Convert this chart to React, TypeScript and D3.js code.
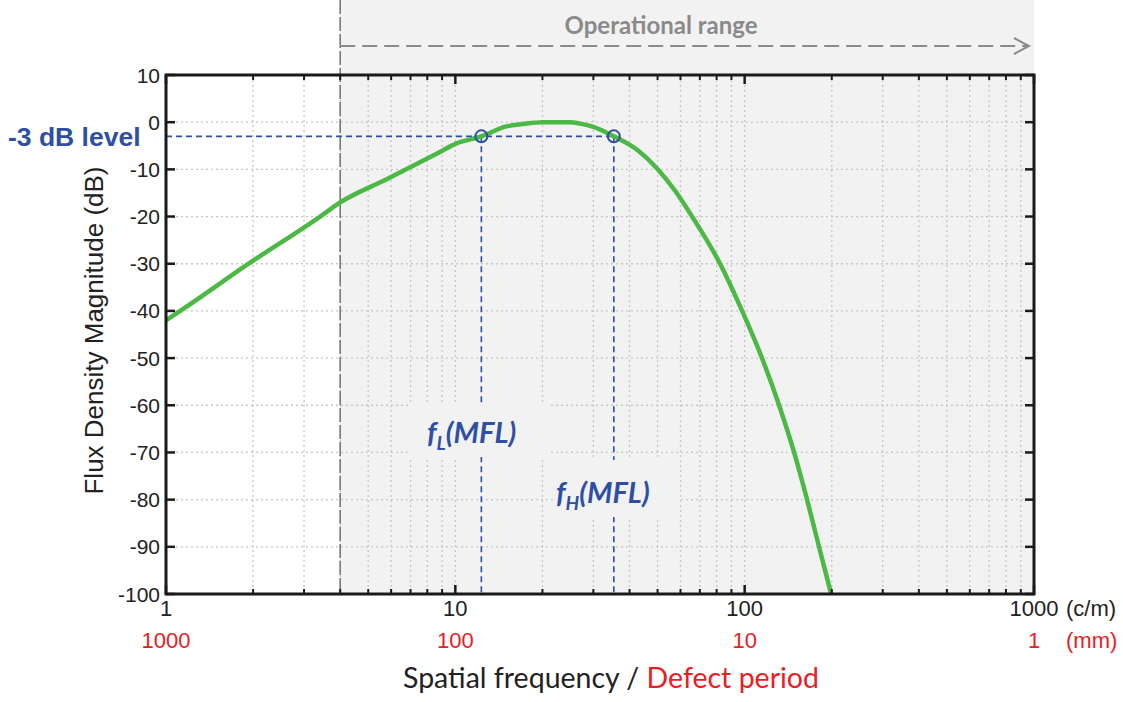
import React from 'react';
import * as d3 from 'd3';

// curve (spatial frequency in c/m, magnitude in dB)
const freq = [1, 1.14, 1.93, 3.41, 4, 5.79, 8.85, 10, 12.3, 15, 17, 20, 25, 27, 30, 35.3, 43, 49.8, 57.9, 65.8, 82.2, 98, 114.8, 131.5, 148.2, 164.3, 180.7, 199];
const magnitude = [-42, -39.7, -30, -20, -17, -12.1, -6.3, -4.6, -3, -0.9, -0.4, 0, 0, -0.3, -1, -3, -6.1, -9.8, -14.8, -20, -30, -40, -50, -60, -70, -80, -90, -100];

const yTicks = [10, 0, -10, -20, -30, -40, -50, -60, -70, -80, -90, -100];
const xTicks = [1, 10, 100, 1000];
const periodLabels = ['1000', '100', '10', '1'];
const operationalStart = 4;
const cutoffLevel = -3;
const fLow = 12.3;
const fHigh = 35.3;

const W = 1123;
const H = 702;
const left = 166, right = 1034, top = 75, bottom = 594;

const GREY = '#8a8a8a';
const BLUE = '#2f4fa2';
const RED = '#ec1c24';
const GREEN = '#4cb845';
const SHADE = '#f2f2f2';

export default function App() {
  const x = d3.scaleLog().domain([1, 1000]).range([left, right]);
  const y = d3.scaleLinear().domain([-100, 10]).range([bottom, top]);

  const minor: number[] = [];
  [1, 10, 100].forEach(d => { for (let k = 2; k <= 9; k++) minor.push(d * k); });

  const line = d3.line<number>()
    .x((_, i) => x(freq[i]))
    .y(d => y(d))
    .curve(d3.curveMonotoneX);

  const xs = x(operationalStart);
  const sans = '"Liberation Sans", Arial, sans-serif';
  const cal = 'Lato, "Open Sans", sans-serif';

  return (
    <div style={{ position: 'absolute', left: 0, top: 0 }}>
      <svg width={W} height={H} style={{ display: 'block', background: '#fff' }}>
        {/* operational range shading */}
        <rect x={xs} y={0} width={right - xs} height={bottom} fill={SHADE} />

        {/* grid */}
        <g stroke="#c6c6c6" strokeWidth={1.3} strokeDasharray="2,3">
          {[...minor, 10, 100].map(d => (
            <line key={'gx' + d} x1={x(d)} x2={x(d)} y1={top} y2={bottom} />
          ))}
          {yTicks.filter(d => d !== 10 && d !== -100).map(d => (
            <line key={'gy' + d} x1={left} x2={right} y1={y(d)} y2={y(d)} />
          ))}
        </g>

        {/* boundary of operational range */}
        <line x1={xs} x2={xs} y1={0} y2={bottom} stroke="#7a7a7a" strokeWidth={1.6} strokeDasharray="14,3" />

        {/* arrow */}
        <line x1={xs} x2={right - 6} y1={46} y2={46} stroke={GREY} strokeWidth={2.2} strokeDasharray="15,7" />
        <polyline points={`${right - 20},38 ${right - 5},46 ${right - 20},54`} fill="none" stroke={GREY} strokeWidth={2} />
        <text x={661} y={34} textAnchor="middle" fontFamily={cal} fontWeight={700} fontSize={24} fill={GREY}>Operational range</text>

        {/* -3 dB guides */}
        <g stroke={BLUE} strokeWidth={1.6} strokeDasharray="6,4" fill="none">
          <line x1={left} x2={x(fHigh)} y1={y(cutoffLevel)} y2={y(cutoffLevel)} />
          <line x1={x(fLow)} x2={x(fLow)} y1={y(cutoffLevel)} y2={bottom} />
          <line x1={x(fHigh)} x2={x(fHigh)} y1={y(cutoffLevel)} y2={bottom} />
        </g>

        {/* label boxes */}
        <rect x={408} y={404} width={140} height={53} fill={SHADE} />
        <rect x={556} y={460} width={124} height={57} fill={SHADE} />
        <text x={427} y={443} fontFamily={cal} fontWeight={700} fontStyle="italic" fontSize={29} fill={BLUE}>
          f<tspan fontSize={19} dy={7}>L</tspan><tspan dy={-7}>(MFL)</tspan>
        </text>
        <text x={556} y={503} fontFamily={cal} fontWeight={700} fontStyle="italic" fontSize={29} fill={BLUE}>
          f<tspan fontSize={19} dy={7}>H</tspan><tspan dy={-7}>(MFL)</tspan>
        </text>

        {/* curve */}
        <path d={line(magnitude) || ''} fill="none" stroke={GREEN} strokeWidth={4.5} strokeLinejoin="round" />

        {[fLow, fHigh].map(f => (
          <circle key={f} cx={x(f)} cy={y(cutoffLevel)} r={6} fill="none" stroke={BLUE} strokeWidth={2} />
        ))}

        {/* ticks */}
        <g stroke="#1a1a1a">
          {minor.map(d => (
            <g key={'t' + d} strokeWidth={2}>
              <line x1={x(d)} x2={x(d)} y1={bottom} y2={bottom - 5} />
              <line x1={x(d)} x2={x(d)} y1={top} y2={top + 5} />
            </g>
          ))}
          {xTicks.map(d => (
            <g key={'T' + d} strokeWidth={2.5}>
              <line x1={x(d)} x2={x(d)} y1={bottom} y2={bottom - 9} />
              <line x1={x(d)} x2={x(d)} y1={top} y2={top + 9} />
            </g>
          ))}
          {yTicks.map(d => (
            <g key={'Y' + d} strokeWidth={2.5}>
              <line x1={left} x2={left + 9} y1={y(d)} y2={y(d)} />
              <line x1={right} x2={right - 9} y1={y(d)} y2={y(d)} />
            </g>
          ))}
        </g>

        {/* frame */}
        <rect x={left} y={top} width={right - left} height={bottom - top} fill="none" stroke="#1a1a1a" strokeWidth={3} />

        {/* y labels */}
        {yTicks.map(d => (
          <text key={'yl' + d} x={left - 6} y={y(d)} dy="0.36em" textAnchor="end" fontFamily={sans} fontSize={21} fill="#222">{d}</text>
        ))}
        <text transform={`translate(103,${(top + bottom) / 2 - 4}) rotate(-90)`} textAnchor="middle" fontFamily={sans} fontSize={26} fill="#222">Flux Density Magnitude (dB)</text>

        <text x={8} y={y(cutoffLevel)} dy="0.36em" fontFamily={sans} fontWeight={700} fontSize={26.5} fill={BLUE}>-3 dB level</text>

        {/* x labels */}
        {xTicks.map(d => (
          <text key={'xl' + d} x={x(d)} y={616} textAnchor="middle" fontFamily={sans} fontSize={22} fill="#222">{d}</text>
        ))}
        <text x={1066} y={616} fontFamily={sans} fontSize={22} fill="#222">(c/m)</text>
        {xTicks.map((d, i) => (
          <text key={'pl' + d} x={x(d)} y={648} textAnchor="middle" fontFamily={sans} fontSize={22} fill={RED}>{periodLabels[i]}</text>
        ))}
        <text x={1066} y={648} fontFamily={sans} fontSize={22} fill={RED}>(mm)</text>

        <text x={611} y={688} textAnchor="middle" fontFamily={cal} fontSize={28.5} fill="#222">
          Spatial frequency / <tspan fill={RED}>Defect period</tspan>
        </text>
      </svg>
    </div>
  );
}
